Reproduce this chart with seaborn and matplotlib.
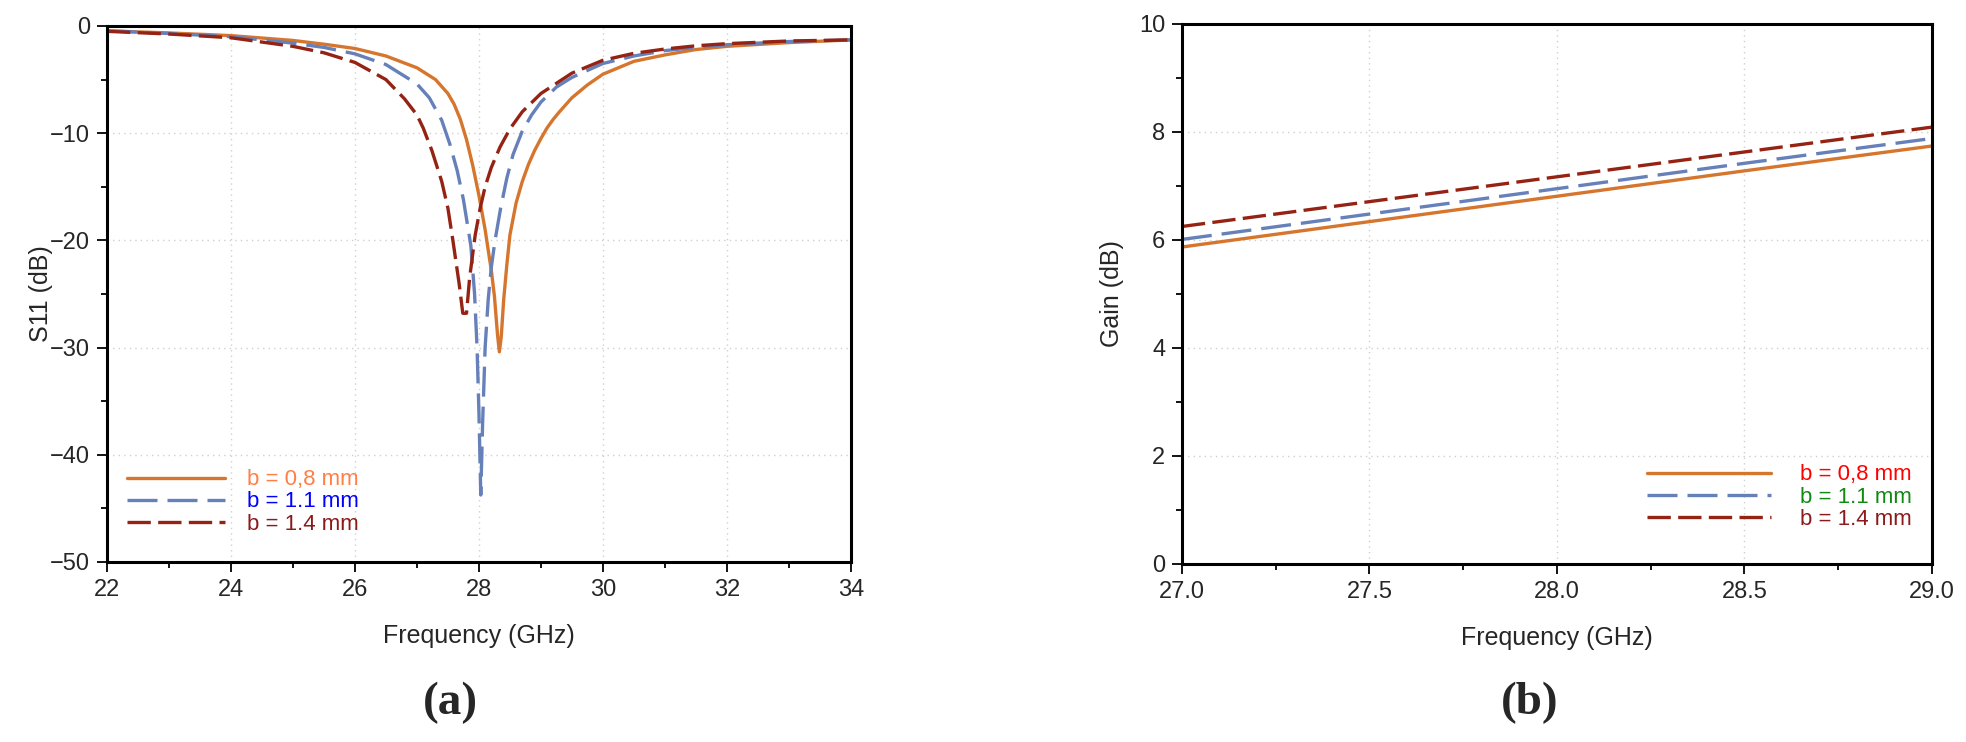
import numpy as np
import pandas as pd
import matplotlib
matplotlib.use("Agg")
import matplotlib.pyplot as plt
import seaborn as sns
from matplotlib.ticker import MultipleLocator, FormatStrFormatter

# S11 data (a)
freq_08 = [22.0, 23.0, 24.0, 25.0, 25.5, 26.0, 26.5, 27.0, 27.3, 27.5, 27.6, 27.7, 27.8, 27.9,
           28.0, 28.1, 28.2, 28.25, 28.3, 28.33, 28.36, 28.4, 28.45, 28.5, 28.6, 28.7, 28.8,
           28.9, 29.0, 29.1, 29.2, 29.3, 29.5, 29.75, 30.0, 30.5, 31.0, 31.5, 32.0, 33.0, 34.0]
s11_08 = [-0.45, -0.65, -0.9, -1.35, -1.7, -2.1, -2.8, -3.9, -5.0, -6.3, -7.3, -8.7, -10.6, -13.0,
          -15.8, -19.0, -22.8, -25.2, -28.8, -30.4, -29.0, -25.5, -22.3, -19.5, -16.5, -14.5, -12.9,
          -11.6, -10.5, -9.5, -8.7, -8.0, -6.7, -5.5, -4.5, -3.3, -2.7, -2.2, -1.9, -1.55, -1.3]

freq_11 = [22.0, 23.0, 24.0, 25.0, 25.5, 26.0, 26.5, 27.0, 27.2, 27.4, 27.53, 27.65, 27.75, 27.87,
           27.93, 27.97, 28.0, 28.03, 28.06, 28.1, 28.15, 28.2, 28.26, 28.35, 28.45, 28.55, 28.7,
           28.85, 29.0, 29.25, 29.5, 30.0, 30.5, 31.0, 31.5, 32.0, 33.0, 34.0]
s11_11 = [-0.45, -0.7, -1.0, -1.6, -2.0, -2.6, -3.6, -5.4, -6.7, -8.8, -11.0, -13.5, -16.2, -20.5,
          -25.0, -30.0, -36.0, -43.75, -37.0, -30.0, -25.5, -22.5, -20.0, -17.0, -14.2, -12.0, -9.8,
          -8.3, -7.1, -5.7, -4.8, -3.5, -2.8, -2.3, -2.0, -1.75, -1.45, -1.3]

freq_14 = [22.0, 23.0, 24.0, 25.0, 25.5, 26.0, 26.5, 26.8, 27.0, 27.1, 27.24, 27.4, 27.5, 27.58,
           27.68, 27.74, 27.8, 27.85, 27.94, 28.02, 28.1, 28.2, 28.34, 28.5, 28.7, 29.0, 29.5,
           30.0, 30.5, 31.0, 31.5, 32.0, 33.0, 34.0]
s11_14 = [-0.5, -0.75, -1.1, -1.9, -2.5, -3.4, -5.0, -6.8, -8.3, -9.5, -11.6, -14.5, -17.0, -20.0,
          -24.0, -26.8, -26.8, -23.5, -19.5, -17.0, -15.0, -13.2, -11.3, -9.6, -8.0, -6.3, -4.4,
          -3.2, -2.55, -2.15, -1.85, -1.65, -1.4, -1.3]

# Gain data (b)
freq_gain = [27.0, 27.5, 28.0, 28.5, 29.0]
gain_08 = [5.87, 6.34, 6.81, 7.28, 7.74]
gain_11 = [6.01, 6.48, 6.95, 7.42, 7.88]
gain_14 = [6.25, 6.71, 7.17, 7.63, 8.09]

labels = ["b = 0,8 mm", "b = 1.1 mm", "b = 1.4 mm"]
line_colors = ["#D6762E", "#6680BA", "#952314"]
styles = [(None, None), (0, (9, 3)), (0, (7, 2.2))]

sns.set_theme(style="white")
plt.rcParams['font.family'] = ['Liberation Sans', 'DejaVu Sans']

fig = plt.figure(figsize=(19.66, 7.42), dpi=100)
ax1 = fig.add_axes([0.0544, 0.2426, 0.3784, 0.7224])
ax2 = fig.add_axes([0.6012, 0.2399, 0.3815, 0.7278])

s11_sets = [(freq_08, s11_08), (freq_11, s11_11), (freq_14, s11_14)]
for (f, s), lab, c, ls in zip(s11_sets, labels, line_colors, styles):
    d = pd.DataFrame({'f': f, 's': s})
    kw = {} if ls[0] is None else {'linestyle': ls}
    sns.lineplot(data=d, x='f', y='s', ax=ax1, color=c, lw=2.4, label=lab, **kw)

gain_sets = [gain_08, gain_11, gain_14]
for g, lab, c, ls in zip(gain_sets, labels, line_colors, styles):
    d = pd.DataFrame({'f': freq_gain, 'g': g})
    kw = {} if ls[0] is None else {'linestyle': ls}
    sns.lineplot(data=d, x='f', y='g', ax=ax2, color=c, lw=2.4, label=lab, **kw)

ax1.set_xlim(22, 34)
ax1.set_ylim(-50, 0)
ax1.xaxis.set_major_locator(MultipleLocator(2))
ax1.xaxis.set_minor_locator(MultipleLocator(1))
ax1.yaxis.set_major_locator(MultipleLocator(10))
ax1.yaxis.set_minor_locator(MultipleLocator(5))
ax1.set_xlabel("Frequency (GHz)", fontsize=18, labelpad=17)
ax1.set_ylabel("S11 (dB)", fontsize=18, labelpad=-2)

ax2.set_xlim(27, 29)
ax2.set_ylim(0, 10)
ax2.xaxis.set_major_locator(MultipleLocator(0.5))
ax2.xaxis.set_minor_locator(MultipleLocator(0.25))
ax2.yaxis.set_major_locator(MultipleLocator(2))
ax2.yaxis.set_minor_locator(MultipleLocator(1))
ax2.xaxis.set_major_formatter(FormatStrFormatter('%.1f'))
ax2.set_xlabel("Frequency (GHz)", fontsize=18, labelpad=17)
ax2.set_ylabel("Gain (dB)", fontsize=18, labelpad=11)

for ax in (ax1, ax2):
    ax.grid(True, which='major', linestyle=(0, (1, 3)), color='#d0d0d0', lw=1.0)
    for sp in ax.spines.values():
        sp.set_color('black')
        sp.set_linewidth(2.2)
    ax.tick_params(which='major', direction='out', length=7, width=1.3, color='black',
                   labelsize=17, pad=5, bottom=True, left=True)
    ax.tick_params(which='minor', direction='out', length=4, width=1.3, color='black',
                   bottom=True, left=True)

leg1 = ax1.legend(loc='center left', bbox_to_anchor=(0.027, 0.112), frameon=False,
                  fontsize=16, handlelength=4.4, handletextpad=1.0, labelspacing=0.05,
                  borderpad=0, borderaxespad=0)
for t, c in zip(leg1.get_texts(), ["#FF7F45", "#0000FF", "#8B1A1A"]):
    t.set_color(c)

leg2 = ax2.legend(loc='center left', bbox_to_anchor=(0.62, 0.124), frameon=False,
                  fontsize=16, handlelength=5.6, handletextpad=1.3, labelspacing=0.05,
                  borderpad=0, borderaxespad=0)
for t, c in zip(leg2.get_texts(), ["#FF0000", "#118A11", "#8B1A1A"]):
    t.set_color(c)

fig.text(0.229, 0.0526, "(a)", fontsize=34, fontweight='bold', ha='center', va='center',
         family=['Liberation Serif', 'DejaVu Serif'])
fig.text(0.778, 0.0526, "(b)", fontsize=34, fontweight='bold', ha='center', va='center',
         family=['Liberation Serif', 'DejaVu Serif'])

fig.savefig("out.png", dpi=100)
